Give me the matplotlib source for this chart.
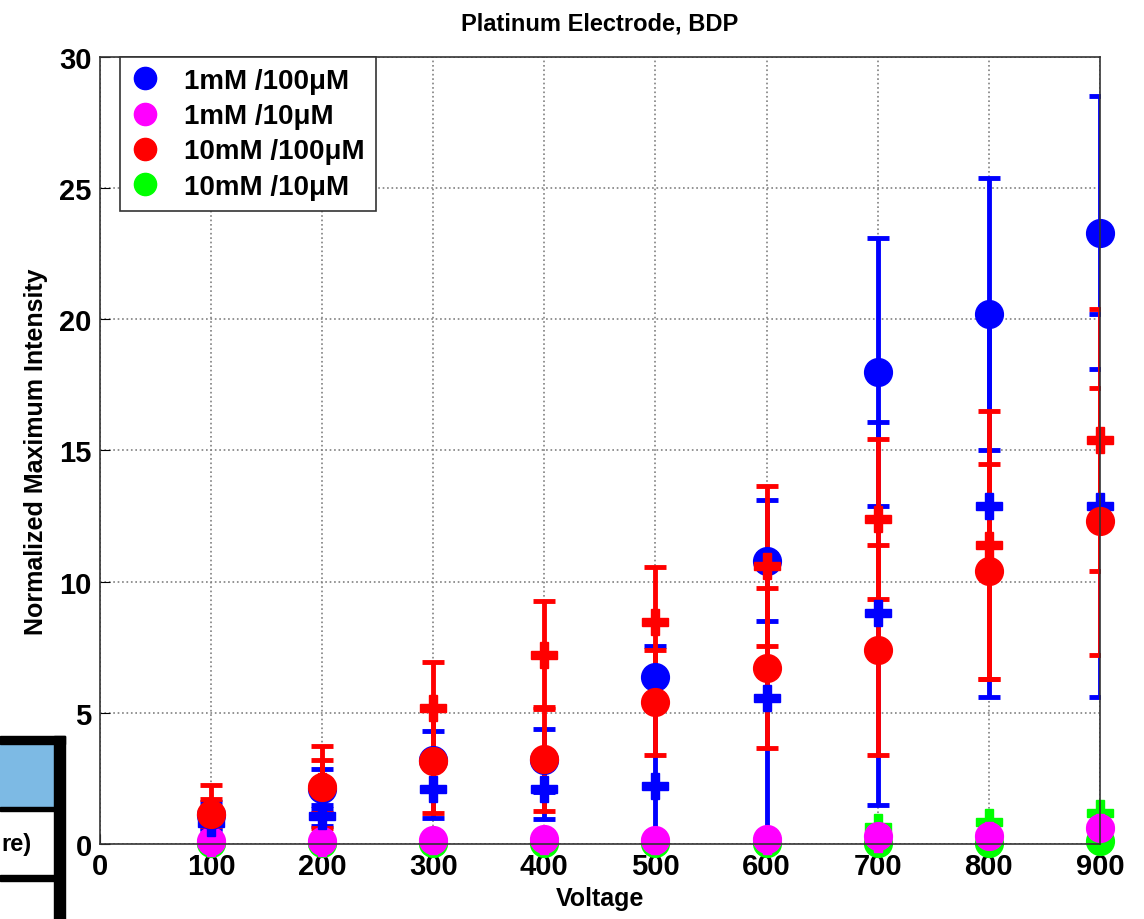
import matplotlib
matplotlib.use('Agg')
import matplotlib.pyplot as plt
from matplotlib.lines import Line2D
from matplotlib.patches import Rectangle

plt.rcParams['font.family'] = ['Liberation Sans', 'DejaVu Sans']
plt.rcParams['font.weight'] = 'bold'

volt = [100, 200, 300, 400, 500, 600, 700, 800, 900]

# 1mM / 100uM (blue): circles and crosses
blue_circ = [1.1, 2.1, 3.2, 3.2, 6.35, 10.8, 18.0, 20.2, 23.3]
blue_circ_err = [0.5, 0.75, 1.1, 1.2, 1.2, 2.3, 5.1, 5.2, 5.2]
blue_cross = [0.8, 1.07, 2.1, 2.1, 2.2, 5.57, 8.8, 12.9, 12.9]
blue_cross_err = [0.3, 0.4, 1.1, 1.15, 3.2, 5.5, 7.3, 7.3, 7.3]

# 10mM / 100uM (red)
red_circ = [1.15, 2.17, 3.17, 3.24, 5.4, 6.7, 7.4, 10.4, 12.3]
red_circ_err = [1.1, 1.55, 2.0, 1.98, 2.0, 3.05, 4.0, 4.1, 5.1]
red_cross = [1.2, 2.2, 5.18, 7.2, 8.45, 10.6, 12.4, 11.4, 15.4]
red_cross_err = [0.5, 1.0, 1.75, 2.05, 2.1, 3.05, 3.05, 5.1, 5.0]

# 1mM / 10uM (magenta) and 10mM / 10uM (green)
mag_circ = [0.1, 0.1, 0.15, 0.2, 0.15, 0.2, 0.3, 0.3, 0.6]
mag_cross = [0.05, 0.05, 0.1, 0.1, 0.1, 0.1, 0.2, 0.35, 0.65]
green_circ = [0.05, 0.05, 0.05, 0.05, 0.05, 0.05, 0.05, 0.05, 0.1]
green_cross = [0.05, 0.05, 0.05, 0.1, 0.1, 0.1, 0.65, 0.85, 1.2]

labels = ['1mM /100μM', '1mM /10μM', '10mM /100μM', '10mM /10μM']
colors = ['#0000ff', '#ff00ff', '#ff0000', '#00ff00']

fig = plt.figure(figsize=(11.44, 9.2), dpi=100)
ax = fig.add_axes([0.0874, 0.0815, 0.874, 0.8555])

eb = dict(linestyle='none', elinewidth=3.5, capsize=8, capthick=3.5)
C_MS, P_MS = 20, 19

def draw(y, err, fmt, ms, color):
    if err is None:
        art = ax.plot(volt, y, fmt, ms=ms, color=color, linestyle='none')
        for a in art:
            a.set_clip_on(False)
    else:
        cont = ax.errorbar(volt, y, yerr=err, fmt=fmt, ms=ms, color=color, **eb)
        cont[0].set_clip_on(False)

draw(blue_circ, blue_circ_err, 'o', C_MS, colors[0])
draw(blue_cross, blue_cross_err, 'P', P_MS, colors[0])
draw(green_circ, None, 'o', C_MS, colors[3])
draw(green_cross, None, 'P', P_MS, colors[3])
draw(red_circ, red_circ_err, 'o', C_MS, colors[2])
draw(red_cross, red_cross_err, 'P', P_MS, colors[2])
draw(mag_cross, None, 'P', P_MS, colors[1])
draw(mag_circ, None, 'o', C_MS, colors[1])

ax.set_xlim(0, 900)
ax.set_ylim(0, 30)
ax.set_xticks(range(0, 901, 100))
ax.set_yticks(range(0, 31, 5))
ax.tick_params(direction='in', length=7, labelsize=21, pad=6)
for lab in ax.get_xticklabels() + ax.get_yticklabels():
    lab.set_fontweight('bold')
ax.grid(True, linestyle=':', color='#808080', linewidth=1.2)
for sp in ax.spines.values():
    sp.set_linewidth(1.2)
    sp.set_color('#333333')
    sp.set_zorder(10)

ax.set_title('Platinum Electrode, BDP', fontsize=17, fontweight='bold', pad=20)
ax.set_xlabel('Voltage', fontsize=18, fontweight='bold', labelpad=4)
ax.set_ylabel('Normalized Maximum Intensity', fontsize=18, fontweight='bold', labelpad=8)

handles = [Line2D([], [], marker='o', ms=16, linestyle='none', color=c) for c in colors]
leg = ax.legend(handles, labels, loc='upper left', bbox_to_anchor=(0.02, 1.0),
                borderaxespad=0, fancybox=False, framealpha=1,
                prop={'size': 20, 'weight': 'bold'}, handlelength=1.0,
                handletextpad=0.9, labelspacing=0.33, borderpad=0.4)
leg.get_frame().set_edgecolor('#333333')
leg.get_frame().set_linewidth(1.2)
leg.set_zorder(20)

# fragment of a neighbouring table at the lower left edge
W, H = 1144.0, 920.0
def rect(x0, y0, x1, y1, color):
    fig.patches.append(Rectangle((x0 / W, 1 - y1 / H), (x1 - x0) / W, (y1 - y0) / H,
                                 transform=fig.transFigure, color=color, zorder=5))
rect(0, 745, 54, 808, '#7dbae4')
rect(0, 737, 65, 745, 'black')
rect(54, 737, 65, 920, 'black')
rect(0, 808, 54, 812, 'black')
rect(0, 876, 54, 882, 'black')
fig.text(1 / W, 1 - 845 / H, 're)', fontsize=17, fontweight='bold', ha='left', va='center')

fig.savefig('out.png', dpi=100)
